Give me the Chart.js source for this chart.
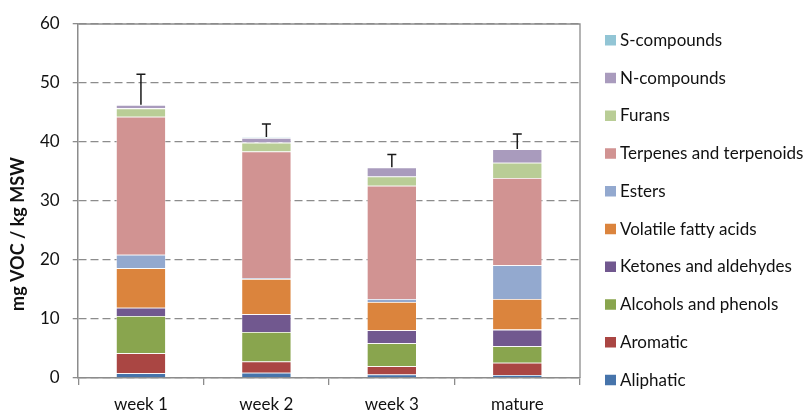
<!DOCTYPE html>
<html>
<head>
<meta charset="utf-8">
<script src="https://cdn.jsdelivr.net/npm/chart.js@4"></script>
<style>
  html, body { margin: 0; padding: 0; background: #fff; }
  #wrap { width: 807px; height: 412px; }
</style>
</head>
<body>
<div id="wrap"><canvas id="vocChart" width="807" height="412"></canvas></div>
<script>
const categories = ['week 1', 'week 2', 'week 3', 'mature'];

const aliphatic = [0.8, 0.9, 0.6, 0.5];
const aromatic = [3.4, 1.9, 1.4, 2.1];
const alcohols = [6.3, 5.0, 3.9, 2.8];
const ketones = [1.4, 3.0, 2.2, 2.8];
const fattyAcids = [6.7, 6.0, 4.8, 5.2];
const esters = [2.3, 0.1, 0.5, 5.7];
const terpenes = [23.4, 21.5, 19.2, 14.8];
const furans = [1.4, 1.5, 1.55, 2.6];
const nCompounds = [0.6, 0.8, 1.55, 2.3];
const sCompounds = [0, 0.15, 0, 0];

const errors = [5.2, 2.2, 2.2, 2.55];

const yTicks = [0, 10, 20, 30, 40, 50, 60];

const FONT = "Lato, 'Open Sans', sans-serif";
const TXT = '#111';

function series(label, data, color) {
  return {
    label: label,
    data: data,
    backgroundColor: color,
    borderColor: 'rgba(255,255,255,0.45)',
    borderWidth: 0.8,
    barPercentage: 0.398,
    categoryPercentage: 1.0
  };
}

// upward error bars on top of each stack
const errorBars = {
  id: 'errorBars',
  afterDatasetsDraw(chart) {
    const ctx = chart.ctx;
    const x = chart.scales.x;
    const y = chart.scales.y;
    const sets = chart.data.datasets;
    ctx.save();
    ctx.strokeStyle = '#1a1a1a';
    ctx.lineWidth = 1.5;
    categories.forEach((c, i) => {
      let total = 0;
      sets.forEach(ds => { total += ds.data[i]; });
      const px = x.getPixelForValue(i);
      const y0 = y.getPixelForValue(total);
      const y1 = y.getPixelForValue(total + errors[i]);
      ctx.beginPath();
      ctx.moveTo(px, y0);
      ctx.lineTo(px, y1);
      ctx.moveTo(px - 4.5, y1);
      ctx.lineTo(px + 4.5, y1);
      ctx.stroke();
    });
    ctx.restore();
  }
};

// top and right border of the plot area
const plotFrame = {
  id: 'plotFrame',
  beforeDatasetsDraw(chart) {
    const a = chart.chartArea;
    const ctx = chart.ctx;
    ctx.save();
    ctx.strokeStyle = '#8c8c8c';
    ctx.lineWidth = 1.3;
    ctx.beginPath();
    ctx.moveTo(a.left, a.top);
    ctx.lineTo(a.right, a.top);
    ctx.lineTo(a.right, a.bottom);
    ctx.stroke();
    ctx.restore();
  }
};

// y title (sits a bit below the axis middle, like the original) + legend list
const sideText = {
  id: 'sideText',
  afterDraw(chart) {
    const ctx = chart.ctx;
    ctx.save();
    ctx.fillStyle = TXT;
    ctx.font = "bold 18px " + FONT;
    ctx.textAlign = 'center';
    ctx.textBaseline = 'middle';
    ctx.translate(18, 234);
    ctx.rotate(-Math.PI / 2);
    ctx.fillText('mg VOC / kg MSW', 0, 0);
    ctx.restore();

    ctx.save();
    ctx.font = "17px " + FONT;
    ctx.textBaseline = 'middle';
    ctx.textAlign = 'left';
    const sets = chart.data.datasets.slice().reverse();
    sets.forEach((ds, i) => {
      const cy = 40 + i * 37.75;
      ctx.fillStyle = ds.backgroundColor;
      ctx.fillRect(605, cy - 5, 11, 10.5);
      ctx.fillStyle = TXT;
      ctx.fillText(ds.label, 620, cy + 0.5);
    });
    ctx.restore();
  }
};

const ctx = document.getElementById('vocChart');

new Chart(ctx, {
  type: 'bar',
  data: {
    labels: categories,
    datasets: [
      series('Aliphatic', aliphatic, '#4674AB'),
      series('Aromatic', aromatic, '#AA4643'),
      series('Alcohols and phenols', alcohols, '#89A54E'),
      series('Ketones and aldehydes', ketones, '#71588F'),
      series('Volatile fatty acids', fattyAcids, '#DB843D'),
      series('Esters', esters, '#93A9CF'),
      series('Terpenes and terpenoids', terpenes, '#D19392'),
      series('Furans', furans, '#B9CD96'),
      series('N-compounds', nCompounds, '#A99BBD'),
      series('S-compounds', sCompounds, '#92C5D5')
    ]
  },
  options: {
    responsive: false,
    animation: false,
    layout: { padding: { top: 24, right: 227, bottom: -12, left: 27 } },
    plugins: {
      legend: { display: false },
      tooltip: { enabled: false }
    },
    scales: {
      x: {
        stacked: true,
        grid: {
          offset: true,
          drawOnChartArea: false,
          drawTicks: true,
          tickLength: 7,
          color: '#8c8c8c',
          lineWidth: 1.3
        },
        border: { color: '#8c8c8c', width: 1.5 },
        ticks: {
          font: { family: FONT, size: 17, lineHeight: 1.0 },
          color: TXT,
          padding: 11
        }
      },
      y: {
        stacked: true,
        min: 0,
        max: 60,
        afterBuildTicks(axis) {
          axis.ticks = yTicks.map(v => ({ value: v }));
        },
        grid: {
          color: '#8c8c8c',
          lineWidth: 1.3,
          tickLength: 5.5,
          tickBorderDash: [],
          drawTicks: true
        },
        border: { color: '#8c8c8c', width: 1.5, dash: [8, 4] },
        ticks: {
          font: { family: FONT, size: 17 },
          color: TXT,
          padding: 13
        }
      }
    }
  },
  plugins: [errorBars, plotFrame, sideText]
});
</script>
</body>
</html>
